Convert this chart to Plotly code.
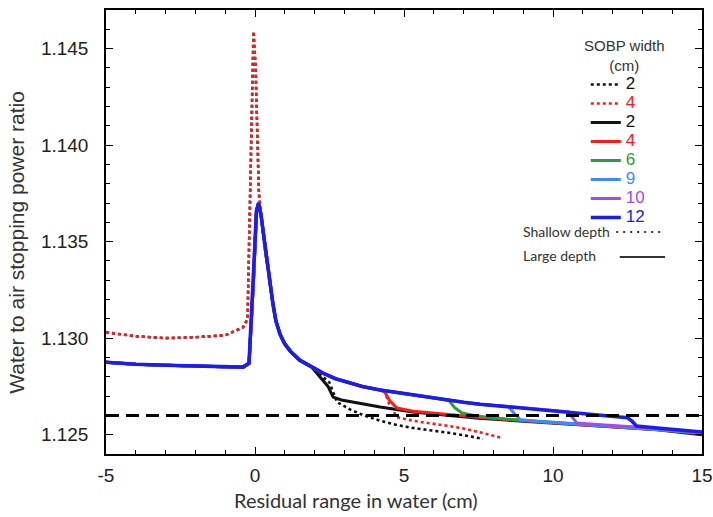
import plotly.graph_objects as go

# ---------------- data ----------------
# Large-depth (solid) common envelope before the distal fall-off
ENV_X = [-5, -4, -3, -2, -1, -0.4, -0.2, -0.05, 0.05, 0.12, 0.2, 0.3, 0.4, 0.5, 0.6, 0.7,
         0.84, 1.0, 1.2, 1.5, 1.9, 2.28, 2.7, 3.1, 3.6, 4.2, 4.8, 5.3, 5.9, 6.44, 7.0, 7.55,
         8.1, 8.66, 9.2, 9.8, 10.4, 10.9, 11.5, 12.0, 12.5]
ENV_Y = [1.12875, 1.12865, 1.1286, 1.12855, 1.1285, 1.1285, 1.1287, 1.1330, 1.1366, 1.1370,
         1.1364, 1.1352, 1.1340, 1.1328, 1.1318, 1.1309, 1.1302, 1.1297, 1.1293, 1.12886,
         1.1285, 1.12819, 1.1279, 1.12772, 1.1275, 1.12731, 1.12717, 1.12705, 1.12692,
         1.12679, 1.12668, 1.12658, 1.1265, 1.12643, 1.12635, 1.12627, 1.1262, 1.12612,
         1.12604, 1.12596, 1.12588]

# Shallow-depth (dotted) plateau and peak, before joining the envelope
SHALLOW_HEAD_X = [-5, -4, -3, -2, -1, -0.4, -0.25, -0.12, -0.05, 0.02, 0.13, 0.3, 0.5, 0.7]
SHALLOW_HEAD_Y = [1.1303, 1.1301, 1.1300, 1.13005, 1.13015, 1.13056, 1.1310, 1.1400, 1.1459,
                  1.1440, 1.1375, 1.1350, 1.1328, 1.1309]

SOBP_WIDTHS = ["2", "4", "2", "4", "6", "9", "10", "12"]
DEPTHS = ["shallow", "shallow", "large", "large", "large", "large", "large", "large"]
KINK_X = [2.28, 4.36, 2.28, 4.36, 6.48, 8.46, 10.47, 12.5]

TAIL_X = [
    [2.5, 2.75, 3.2, 3.62, 4.2, 4.76, 5.3, 5.87, 6.5, 7.1, 7.65],
    [4.36, 4.5, 4.76, 5.3, 5.87, 6.5, 7.1, 7.6, 8.1, 8.25],
    [2.45, 2.62, 2.9, 3.3, 4.2, 5.3, 6.4, 7.5, 9, 10.5, 12, 13.5, 15],
    [4.36, 4.5, 4.76, 5.3, 6.4, 7.5, 9, 10.5, 12, 13.5, 15],
    [6.5, 6.7, 6.95, 7.5, 8.5, 10, 11.5, 13, 15],
    [8.5, 8.7, 8.9, 9.5, 10.5, 12, 13.5, 15],
    [10.5, 10.65, 10.8, 11.5, 12.5, 13.5, 15],
    [12.5, 12.65, 12.8, 13.5, 14.2, 15],
]
TAIL_Y = [
    [1.1277, 1.12669, 1.1263, 1.12602, 1.12572, 1.1255, 1.12535, 1.12524, 1.1251, 1.12495, 1.12478],
    [1.1272, 1.1266, 1.12591, 1.12572, 1.1256, 1.12545, 1.12529, 1.1251, 1.12492, 1.12485],
    [1.1275, 1.12695, 1.1268, 1.12668, 1.12643, 1.12617, 1.126, 1.12585, 1.1257, 1.12555, 1.1254, 1.12525, 1.125],
    [1.1272, 1.1268, 1.12638, 1.12622, 1.12605, 1.1259, 1.12572, 1.12557, 1.12542, 1.12527, 1.12505],
    [1.12678, 1.1264, 1.12612, 1.12595, 1.1258, 1.12565, 1.1255, 1.12535, 1.12508],
    [1.12646, 1.1261, 1.12578, 1.12568, 1.12558, 1.12543, 1.12528, 1.1251],
    [1.1262, 1.1259, 1.1256, 1.12553, 1.12543, 1.12532, 1.12512],
    [1.12588, 1.1257, 1.12545, 1.12535, 1.12526, 1.12514],
]

COLORS = ["#111111", "#ff1a1a", "#111111", "#ff1a1a", "#2a9d3c", "#3d8bff", "#a64ce6", "#1c1cf0"]
WIDTHS = [2.6, 2.6, 3.0, 3.0, 3.0, 3.0, 3.0, 3.6]
THRESHOLD = 1.126

X_RANGE = [-5, 15]
Y_RANGE = [1.124, 1.147]
X_TICKS = [-5, 0, 5, 10, 15]
X_TICK_TEXT = ["-5", "0", "5", "10", "15"]
Y_TICKS = [1.125, 1.130, 1.135, 1.140, 1.145]
Y_TICK_TEXT = ["1.125", "1.130", "1.135", "1.140", "1.145"]

# ---------------- figure ----------------
fig = go.Figure()

for i in range(len(SOBP_WIDTHS)):
    if DEPTHS[i] == "shallow":
        hx = list(SHALLOW_HEAD_X)
        hy = list(SHALLOW_HEAD_Y)
        for x, y in zip(ENV_X, ENV_Y):
            if hx[-1] < x < KINK_X[i]:
                hx.append(x)
                hy.append(y)
        dash = "dot"
    else:
        hx = [x for x in ENV_X if x < KINK_X[i]]
        hy = [y for x, y in zip(ENV_X, ENV_Y) if x < KINK_X[i]]
        dash = "solid"
    xs = hx + TAIL_X[i]
    ys = hy + TAIL_Y[i]
    fig.add_trace(go.Scatter(
        x=xs, y=ys, mode="lines",
        line=dict(color=COLORS[i], width=WIDTHS[i], dash=dash),
        name="<span style='font-size:17px;color:%s'>%s</span>" % (COLORS[i], SOBP_WIDTHS[i]),
        showlegend=True,
    ))

fig.add_hline(y=THRESHOLD, line=dict(color="black", width=3, dash="13px,7px"))

axis_common = dict(
    showline=True, linecolor="black", linewidth=1.5, mirror="ticks",
    ticks="inside", ticklen=7, tickwidth=1.2, tickcolor="black",
    showgrid=False, zeroline=False, automargin=False,
    tickfont=dict(family="Liberation Sans, Arial", size=19, color="#222222"),
)

fig.update_xaxes(
    range=X_RANGE, tickvals=X_TICKS, ticktext=X_TICK_TEXT,
    minor=dict(dtick=1, ticks="inside", ticklen=4, tickcolor="black", tickwidth=1.1),
    ticklabelstandoff=3,
    **axis_common,
)
fig.update_yaxes(
    range=Y_RANGE, tickvals=Y_TICKS, ticktext=Y_TICK_TEXT,
    minor=dict(dtick=0.001, tick0=1.125, ticks="inside", ticklen=4, tickcolor="black", tickwidth=1.1),
    ticklabelstandoff=12,
    **axis_common,
)

# axis titles
fig.add_annotation(xref="paper", yref="paper", x=0.42, y=-0.1035, xanchor="center", yanchor="middle",
                   text="Residual range in water (cm)", showarrow=False,
                   font=dict(family="Lato, Carlito, sans-serif", size=20, color="#333333"))
fig.add_annotation(xref="paper", yref="paper", x=-0.150, y=0.477, xanchor="center", yanchor="middle",
                   text="Water to air stopping power ratio", showarrow=False, textangle=-90,
                   font=dict(family="Liberation Sans, Arial", size=21, color="#333333"))

# legend title
fig.add_annotation(xref="paper", yref="paper", x=0.87, y=0.898, xanchor="center", yanchor="middle",
                   text="SOBP width<br>(cm)", showarrow=False,
                   font=dict(family="Liberation Sans, Arial", size=15, color="#333333"))

# depth key (style key drawn in paper coordinates)
fig.add_annotation(xref="paper", yref="paper", x=0.696, y=0.502, xanchor="left", yanchor="middle",
                   text="Shallow depth", showarrow=False,
                   font=dict(family="Lato, Carlito, sans-serif", size=14, color="#333333"))
fig.add_annotation(xref="paper", yref="paper", x=0.696, y=0.446, xanchor="left", yanchor="middle",
                   text="Large depth", showarrow=False,
                   font=dict(family="Lato, Carlito, sans-serif", size=14, color="#333333"))
fig.add_shape(type="line", xref="paper", yref="paper", x0=0.856, x1=0.930, y0=0.500, y1=0.500,
              line=dict(color="#333333", width=2, dash="2px,5px"))
fig.add_shape(type="line", xref="paper", yref="paper", x0=0.862, x1=0.938, y0=0.4437, y1=0.4437,
              line=dict(color="#333333", width=2))

fig.update_layout(
    width=713, height=517,
    margin=dict(l=106, r=11, t=10, b=63, pad=0),
    paper_bgcolor="white", plot_bgcolor="white",
    legend=dict(
        x=0.805, y=0.865, xanchor="left", yanchor="top",
        bgcolor="rgba(0,0,0,0)", borderwidth=0,
        font=dict(family="Liberation Sans, Arial", size=12),
        itemwidth=30, tracegroupgap=0,
    ),
)

fig.write_html("out.html")
